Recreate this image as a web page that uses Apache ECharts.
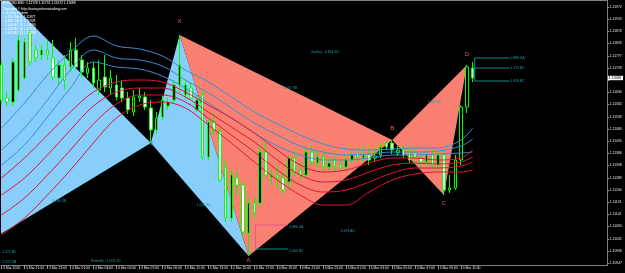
<!DOCTYPE html>
<html><head><meta charset="utf-8">
<script src="https://cdn.jsdelivr.net/npm/echarts@6/dist/echarts.min.js"></script>
<style>html,body{margin:0;padding:0;background:#000;}#c{width:625px;height:273px;}</style>
</head><body><div id="c"></div>
<script>
// ---------- data ----------
const timeLabels = ['3 Mar 2020','3 Mar 21:00','3 Mar 23:00','4 Mar 01:00','4 Mar 03:00','4 Mar 05:00','4 Mar 07:00','4 Mar 09:00','4 Mar 11:00','4 Mar 13:00','4 Mar 15:00','4 Mar 17:00','4 Mar 19:00','4 Mar 21:00','4 Mar 23:00','5 Mar 01:00','5 Mar 03:00','5 Mar 05:00','5 Mar 07:00','5 Mar 09:00','5 Mar 11:00'];
const labelBars = [0,4,8,12,16,20,24,28,32,36,40,44,48,52,56,60,64,68,72,76,80];

const opens = [1.11740,1.11608,1.11592,1.11640,1.11688,1.11868,1.11800,1.11780,1.11800,1.11768,
1.11688,1.11740,1.11732,1.11800,1.11760,1.11708,1.11728,1.11640,1.11692,1.11648,
1.11660,1.11648,1.11608,1.11552,1.11608,1.11612,1.11568,1.11480,1.11532,1.11576,
1.11600,1.11660,1.11620,1.11648,1.11560,1.11620,1.11372,1.11512,1.11472,1.11332,
1.11128,1.11288,1.11260,1.11068,1.11188,1.11188,1.11392,1.11292,1.11300,1.11288,
1.11272,1.11368,1.11320,1.11300,1.11392,1.11348,1.11372,1.11332,1.11360,1.11340,
1.11332,1.11360,1.11388,1.11368,1.11380,1.11368,1.11380,1.11428,1.11428,1.11388,
1.11400,1.11388,1.11388,1.11368,1.11352,1.11380,1.11340,1.11380,1.11240,1.11248,
1.11360,1.11572,1.11728];
const closes = [1.11600,1.11592,1.11752,1.11840,1.11832,1.11752,1.11768,1.11800,1.11780,1.11692,
1.11740,1.11680,1.11800,1.11732,1.11712,1.11728,1.11668,1.11680,1.11652,1.11688,
1.11612,1.11608,1.11560,1.11612,1.11616,1.11572,1.11480,1.11528,1.11600,1.11592,
1.11660,1.11740,1.11660,1.11608,1.11600,1.11372,1.11512,1.11480,1.11280,1.11128,
1.11300,1.11260,1.11072,1.11188,1.11148,1.11392,1.11300,1.11300,1.11288,1.11240,
1.11368,1.11312,1.11300,1.11392,1.11352,1.11372,1.11332,1.11348,1.11336,1.11328,
1.11360,1.11380,1.11372,1.11380,1.11360,1.11376,1.11412,1.11412,1.11400,1.11400,
1.11380,1.11360,1.11372,1.11352,1.11380,1.11340,1.11380,1.11240,1.11248,1.11360,
1.11572,1.11732,1.11688];
const lows = [1.11580,1.11576,1.11576,1.11632,1.11680,1.11736,1.11752,1.11760,1.11760,1.11680,
1.11660,1.11640,1.11712,1.11720,1.11688,1.11688,1.11648,1.11620,1.11632,1.11620,
1.11600,1.11592,1.11544,1.11536,1.11592,1.11560,1.11428,1.11464,1.11520,1.11560,
1.11584,1.11632,1.11600,1.11600,1.11552,1.11360,1.11360,1.11460,1.11272,1.11112,
1.11112,1.11220,1.11056,1.10976,1.11128,1.11176,1.11288,1.11260,1.11248,1.11224,
1.11248,1.11296,1.11280,1.11288,1.11336,1.11328,1.11312,1.11312,1.11312,1.11312,
1.11320,1.11348,1.11352,1.11352,1.11340,1.11352,1.11368,1.11400,1.11384,1.11376,
1.11368,1.11348,1.11352,1.11328,1.11340,1.11320,1.11320,1.11220,1.11228,1.11240,
1.11340,1.11548,1.11672];
const highs = [1.11760,1.11632,1.11768,1.11860,1.11848,1.11888,1.11820,1.11820,1.11840,1.11840,
1.11760,1.11780,1.11832,1.11848,1.11780,1.11752,1.11752,1.11760,1.11780,1.11720,
1.11700,1.11680,1.11632,1.11640,1.11648,1.11632,1.11600,1.11552,1.11616,1.11608,
1.11680,1.11860,1.11680,1.11672,1.11620,1.11640,1.11528,1.11548,1.11488,1.11360,
1.11320,1.11320,1.11272,1.11208,1.11208,1.11420,1.11440,1.11320,1.11340,1.11312,
1.11380,1.11400,1.11352,1.11408,1.11420,1.11400,1.11400,1.11368,1.11380,1.11360,
1.11380,1.11400,1.11408,1.11420,1.11408,1.11408,1.11428,1.11436,1.11440,1.11416,
1.11416,1.11408,1.11400,1.11392,1.11400,1.11400,1.11392,1.11392,1.11300,1.11380,
1.11580,1.11740,1.11752];

// moving-average envelope lines, read every 4 bars
const maBars = [0,4,8,12,16,20,24,28,32,36,40,44,48,52,56,60,64,68,72,76,80,82];
const blue1 = [1.11488,1.11588,1.11700,1.11792,1.11856,1.11816,1.11804,1.11776,1.11720,1.11672,1.11612,1.11552,1.11504,1.11460,1.11424,1.11404,1.11400,1.11404,1.11408,1.11408,1.11440,1.11488];
const blue2 = [1.11400,1.11488,1.11600,1.11720,1.11800,1.11768,1.11760,1.11736,1.11680,1.11628,1.11568,1.11508,1.11460,1.11416,1.11392,1.11380,1.11384,1.11392,1.11392,1.11396,1.11416,1.11444];
const blue3 = [1.11340,1.11420,1.11532,1.11648,1.11752,1.11732,1.11724,1.11696,1.11648,1.11588,1.11528,1.11468,1.11416,1.11380,1.11360,1.11360,1.11368,1.11380,1.11380,1.11384,1.11388,1.11392];
const red1 = [1.11288,1.11368,1.11460,1.11552,1.11632,1.11672,1.11680,1.11672,1.11632,1.11580,1.11528,1.11468,1.11400,1.11340,1.11312,1.11320,1.11348,1.11368,1.11368,1.11360,1.11368,1.11400];
const red2 = [1.11220,1.11288,1.11380,1.11480,1.11576,1.11632,1.11648,1.11648,1.11612,1.11552,1.11492,1.11432,1.11360,1.11300,1.11272,1.11280,1.11312,1.11340,1.11348,1.11344,1.11352,1.11372];
const red3 = [1.11140,1.11208,1.11300,1.11400,1.11504,1.11584,1.11620,1.11620,1.11592,1.11528,1.11460,1.11392,1.11320,1.11260,1.11232,1.11240,1.11272,1.11308,1.11328,1.11328,1.11336,1.11352];
const red4 = [1.11060,1.11128,1.11220,1.11320,1.11428,1.11528,1.11580,1.11592,1.11568,1.11500,1.11428,1.11352,1.11280,1.11220,1.11180,1.11180,1.11232,1.11280,1.11304,1.11312,1.11312,1.11320];

// harmonic pattern points
const patternNames  = ['B','X','A','B','C','D'];
const patternBars   = [26, 31, 43, 68, 77, 81];
const patternPrices = [1.11428, 1.11860, 1.10976, 1.11440, 1.11220, 1.11740];
// earlier pattern wing whose outer corners lie left of the window
const leftWing = [[-1, 1.12048], [26, 1.11428], [-1, 1.11052]];

// level lines [bar1, price1, bar2, price2]
const levelSegs = [
  [82.35, 1.11768, 88.4, 1.11768],
  [82.35, 1.11728, 88.4, 1.11728],
  [82.35, 1.11676, 88.4, 1.11676],
  [82.35, 1.11768, 82.35, 1.11676],
  [44.2, 1.11100, 49.9, 1.11100],
  [44.2, 1.11004, 49.9, 1.11004],
  [44.2, 1.11100, 44.2, 1.11004]
];
const levelSegKind = ['t','t','t','t','p','t','p'];
const levelNotes = [[88.6, 1.11768, '0.886 XA'], [88.6, 1.11728, '1.272 BC'], [88.6, 1.11676, '1.618 BC'],
                    [50.1, 1.11092, '0.886 XA'], [50.1, 1.10996, '2.000 BC'],
                    [0.15, 1.10992, '1.272 BC'], [0.15, 1.10952, '1.272 XA']];
const centerNotes = [[56.3, 1.11792, 'Gartley - 0.864 XD'], [50.2, 1.11648, '0.525 XB'], [75.4, 1.11592, '2.364 BC'],
                     [60.3, 1.11076, '0.474 AC'], [35.2, 1.11180, '1.000 XD'], [10.05, 1.11196, '0.786 XB'],
                     [18.2, 1.10956, 'Butterfly - 1.000 XD']];

const yTickValues = [1.11972,1.11923,1.11874,1.11826,1.11777,1.11728,1.11679,1.11630,1.11582,1.11533,1.11484,1.11435,1.11386,1.11338,1.11289,1.11240,1.11191,1.11142,1.11094,1.11045,1.10996,1.10947];
const priceNow = 1.11688;
const infoLines = ['EURUSD,M30  1.11728 1.11752 1.11672 1.11688',
  'Copyright \u00a9 http://www.patternstrading.com',
  '= Gartley Pattern',
  '- 0.786 XA @ 1.11877',
  '- 0.886 XA @ 1.11928',
  '- 2.000 BC @ 1.11880',
  '- 2.618 BC @ 1.12012',
  '- 1.618 AC @ 1.11838'];

// ---------- chart ----------
const FONT = 'Liberation Sans';
const chart = echarts.init(document.getElementById('c'), null, {renderer: 'canvas'});
const ptAt = i => [patternBars[i], patternPrices[i]];
const blueTris = [leftWing, [ptAt(0), ptAt(1), ptAt(2)]];
const salmonTris = [[ptAt(1), ptAt(2), ptAt(3)], [ptAt(3), ptAt(4), ptAt(5)]];

function polySeries(tris, color) {
  return {
    type: 'custom', coordinateSystem: 'cartesian2d', clip: true, z: 1, silent: true,
    data: tris.map((t, i) => [i]),
    renderItem: (params, api) => ({
      type: 'polygon',
      shape: {points: tris[api.value(0)].map(p => api.coord(p))},
      style: {fill: color}
    })
  };
}
function maSeries(vals, color) {
  return {type: 'line', z: 5, silent: true, smooth: 0.35, showSymbol: false,
    data: maBars.map((b, i) => [b, vals[i]]),
    lineStyle: {color: color, width: 1}};
}
const labelSide = ['inside', 'top', 'bottom', 'top', 'bottom', 'top'];
const labelGap = [0, 11, 1.5, 9, 5, 8];
const labelColor = ['#3f7fc0', '#fa8072', '#fa8072', '#fa8072', '#fa8072', '#fa8072'];

const option = {
  backgroundColor: '#000',
  animation: false,
  grid: {left: 0, right: 17, top: 1, bottom: 8},
  xAxis: {
    type: 'value', min: 0, max: 608 / 5.767,
    axisLine: {show: true, onZero: false, lineStyle: {color: '#808080', width: 1}},
    splitLine: {show: false},
    axisTick: {show: true, customValues: labelBars, length: 4, lineStyle: {color: '#9a9a9a'}},
    axisLabel: {customValues: labelBars, formatter: v => timeLabels[Math.round(v / 4)] || '',
      align: 'left', margin: 1.5, padding: [0, 0, 0, 1.5], fontSize: 3.4, color: '#e8e8e8', fontFamily: FONT}
  },
  yAxis: {
    type: 'value', position: 'right', min: 1.10940, max: 1.11996, scale: true,
    axisLine: {show: true, onZero: false, lineStyle: {color: '#808080', width: 1}},
    splitLine: {show: false},
    axisTick: {show: true, customValues: yTickValues, length: 2, lineStyle: {color: '#9a9a9a'}},
    axisLabel: {customValues: yTickValues.filter((v, i) => i !== 6), formatter: v => v.toFixed(5),
      margin: 2.5, fontSize: 3.4, color: '#e8e8e8', fontFamily: FONT}
  },
  series: [
    polySeries(blueTris, '#87cefa'),
    polySeries(salmonTris, '#fa8072'),
    {
      type: 'candlestick', z: 3, silent: true, barWidth: 3,
      data: opens.map((o, i) => [i, o, closes[i], lows[i], highs[i]]),
      encode: {x: 0, y: [1, 2, 3, 4]},
      itemStyle: {color: '#000000', color0: '#ffffff', borderColor: '#00ff00', borderColor0: '#00ff00', borderWidth: 1},
      markLine: {symbol: 'none', silent: true, animation: false, label: {show: false},
        lineStyle: {color: '#8c8c8c', type: 'solid', width: 1}, data: [{yAxis: priceNow}]}
    },
    maSeries(blue1, '#3d8bd4'), maSeries(blue2, '#3d8bd4'), maSeries(blue3, '#3d8bd4'),
    maSeries(red1, '#e0143c'), maSeries(red2, '#e0143c'), maSeries(red3, '#e0143c'), maSeries(red4, '#e0143c'),
    {
      type: 'custom', coordinateSystem: 'cartesian2d', z: 6, silent: true,
      data: levelSegs.map((s, i) => [s[0], s[1], s[2], s[3], i]),
      renderItem: (params, api) => {
        const a = api.coord([api.value(0), api.value(1)]);
        const b = api.coord([api.value(2), api.value(3)]);
        const kind = levelSegKind[api.value(4)];
        return {type: 'line', shape: {x1: a[0], y1: a[1], x2: b[0], y2: b[1]},
          style: {stroke: kind === 'p' ? '#e05a8a' : '#138a8a', lineWidth: 1}};
      }
    },
    {
      type: 'custom', coordinateSystem: 'cartesian2d', z: 7, silent: true,
      data: levelNotes.map((n, i) => [n[0], n[1], i]),
      renderItem: (params, api) => {
        const p = api.coord([api.value(0), api.value(1)]);
        return {type: 'text', x: p[0], y: p[1], style: {text: levelNotes[api.value(2)][2], fill: '#17a3a3',
          fontSize: 3.4, fontFamily: FONT, align: 'left', verticalAlign: 'middle'}};
      }
    },
    {
      type: 'custom', coordinateSystem: 'cartesian2d', z: 7, silent: true,
      data: centerNotes.map((n, i) => [n[0], n[1], i]),
      renderItem: (params, api) => {
        const p = api.coord([api.value(0), api.value(1)]);
        return {type: 'text', x: p[0], y: p[1], style: {text: centerNotes[api.value(2)][2], fill: '#17a3a3',
          fontSize: 3.4, fontFamily: FONT, align: 'center', verticalAlign: 'middle'}};
      }
    },
    {
      type: 'scatter', z: 8, silent: true, symbolSize: 0,
      data: patternNames.map((n, i) => ({value: [patternBars[i], patternPrices[i]],
        label: {show: true, formatter: n, position: labelSide[i], distance: labelGap[i], color: labelColor[i],
          fontSize: 6, fontFamily: FONT}}))
    }
  ],
  graphic: [
    {type: 'line', shape: {x1: 0, y1: 0.5, x2: 608, y2: 0.5}, style: {stroke: '#808080', lineWidth: 1}, z: 10}
  ].concat(infoLines.map((t, i) => ({
    type: 'text', z: 10, x: 3, y: [3.3, 8.7, 13.3, 17.3, 21.3, 25.3, 29.3, 33.3][i],
    style: {text: t, fill: '#ffffff', fontSize: 3.3, fontFamily: FONT, verticalAlign: 'middle'}
  })))
};
chart.setOption(option);

// current price box on the price scale
const py = chart.convertToPixel({yAxisIndex: 0}, priceNow);
const gx = chart.convertToPixel({xAxisIndex: 0}, 608 / 5.767);
chart.setOption({graphic: option.graphic.concat([
  {type: 'rect', z: 11, shape: {x: gx + 0.8, y: py - 2.2, width: 15, height: 4.4}, style: {fill: '#ffffff'}},
  {type: 'text', z: 12, x: gx + 1.6, y: py, style: {text: priceNow.toFixed(5), fill: '#000', fontSize: 3.4, fontFamily: FONT, verticalAlign: 'middle'}}
])});
</script>
</body></html>
